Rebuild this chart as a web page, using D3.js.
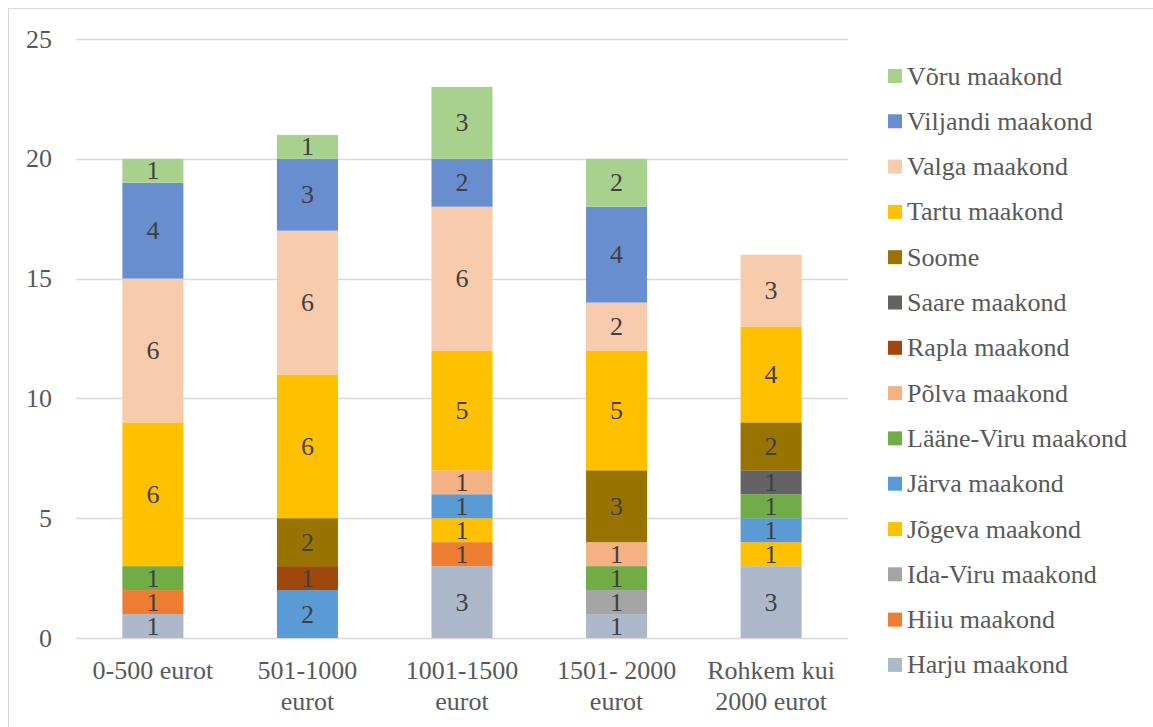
<!DOCTYPE html>
<html>
<body style="margin:0">
<script src="https://d3js.org/d3.v7.min.js"></script>
<script>
  // categories and series
  const categories = [["0-500 eurot"], ["501-1000", "eurot"], ["1001-1500", "eurot"], ["1501- 2000", "eurot"], ["Rohkem kui", "2000 eurot"]]
  const seriesNames = ["Harju maakond", "Hiiu maakond", "Ida-Viru maakond", "Jõgeva maakond", "Järva maakond",
    "Lääne-Viru maakond", "Põlva maakond", "Rapla maakond", "Saare maakond", "Soome",
    "Tartu maakond", "Valga maakond", "Viljandi maakond", "Võru maakond"]
  const seriesColors = ["#adb9ca", "#ed7d31", "#a5a5a5", "#ffc000", "#5b9bd5",
    "#70ad47", "#f4b183", "#9e480e", "#636363", "#997300",
    "#ffc000", "#f8cbad", "#698ed0", "#a9d18e"]
  // one row per series, one value per category (0 = none)
  const harju = [1, 0, 3, 1, 3]
  const hiiu = [1, 0, 1, 0, 0]
  const idaViru = [0, 0, 0, 1, 0]
  const jogeva = [0, 0, 1, 0, 1]
  const jarva = [0, 2, 1, 0, 1]
  const laaneViru = [1, 0, 0, 1, 1]
  const polva = [0, 0, 1, 1, 0]
  const rapla = [0, 1, 0, 0, 0]
  const saare = [0, 0, 0, 0, 1]
  const soome = [0, 2, 0, 3, 2]
  const tartu = [6, 6, 5, 5, 4]
  const valga = [6, 6, 6, 2, 3]
  const viljandi = [4, 3, 2, 4, 0]
  const voru = [1, 1, 3, 2, 0]
  const yTicks = [0, 5, 10, 15, 20, 25]

  const values = [harju, hiiu, idaViru, jogeva, jarva, laaneViru, polva, rapla, saare, soome, tartu, valga, viljandi, voru]

  const width = 1153, height = 727
  const plotLeft = 76, plotRight = 848, plotTop = 39, plotBottom = 638
  const fontOf = () => "'Liberation Serif', monospace"
  const fs = 26

  const svg = d3.select("body").append("svg")
    .attr("width", width).attr("height", height)

  // outer chart border
  svg.append("rect")
    .attr("x", 8.5).attr("y", 8.5)
    .attr("width", width).attr("height", height)
    .attr("fill", "none").attr("stroke", "#d9d9d9")

  const x = d3.scaleBand().domain(d3.range(categories.length)).range([plotLeft, plotRight]).paddingInner(0.605).paddingOuter(0.3)
  const y = d3.scaleLinear().domain([0, 25]).range([plotBottom, plotTop])

  // gridlines
  svg.append("g").selectAll("line")
    .data(yTicks).enter().append("line")
    .attr("x1", plotLeft).attr("x2", plotRight)
    .attr("y1", d => Math.round(y(d)) + 0.5).attr("y2", d => Math.round(y(d)) + 0.5)
    .attr("stroke", "#d9d9d9").attr("stroke-width", 1.3)

  // y tick labels
  svg.append("g").selectAll("text")
    .data(yTicks).enter().append("text")
    .style("font-family", fontOf)
    .attr("x", 52).attr("y", d => y(d))
    .attr("dy", "0.33em")
    .attr("text-anchor", "end")
    .attr("fill", "#595959").attr("font-size", fs)
    .text(d => d)

  // build the stack
  const rows = categories.map((c, i) => {
    const r = { i: i }
    seriesNames.forEach((s, k) => { r[s] = values[k][i] })
    return r
  })
  const stacked = d3.stack().keys(seriesNames)(rows)

  const layers = svg.append("g").selectAll("g")
    .data(stacked).enter().append("g")
    .attr("fill", (d, k) => seriesColors[k])

  layers.selectAll("rect")
    .data(d => d.filter(p => p[1] > p[0]))
    .enter().append("rect")
    .attr("x", d => x(d.data.i))
    .attr("width", x.bandwidth())
    .attr("y", d => y(d[1]))
    .attr("height", d => y(d[0]) - y(d[1]))

  layers.selectAll("text")
    .data(d => d.filter(p => p[1] > p[0]))
    .enter().append("text")
    .style("font-family", fontOf)
    .attr("x", d => x(d.data.i) + x.bandwidth() / 2)
    .attr("y", d => y((d[0] + d[1]) / 2))
    .attr("dy", "0.33em")
    .attr("text-anchor", "middle")
    .attr("fill", "#404040").attr("font-size", fs)
    .text(d => d[1] - d[0])

  // x labels
  const xl = svg.append("g").selectAll("text")
    .data(categories).enter().append("text")
    .style("font-family", fontOf)
    .attr("text-anchor", "middle")
    .attr("fill", "#595959").attr("font-size", fs)
    .attr("transform", (d, i) => `translate(${x(i) + x.bandwidth() / 2},679)`)
  xl.selectAll("tspan")
    .data(d => d).enter().append("tspan")
    .attr("x", 0).attr("y", (d, j) => j * 31)
    .text(d => d)

  // legend, top to bottom in reverse order
  const legend = svg.append("g").selectAll("g")
    .data(seriesNames.map((s, k) => ({ name: s, color: seriesColors[k], k: k })).reverse())
    .enter().append("g")
    .attr("transform", (d, j) => `translate(888,${76 + j * 45.3})`)
  legend.append("rect")
    .attr("x", 0).attr("y", -7).attr("width", 14).attr("height", 14)
    .attr("fill", d => d.color)
  legend.append("text")
    .style("font-family", fontOf)
    .attr("x", 19).attr("dy", "0.33em")
    .attr("fill", "#595959").attr("font-size", fs)
    .text(d => d.name)
</script>
</body>
</html>
